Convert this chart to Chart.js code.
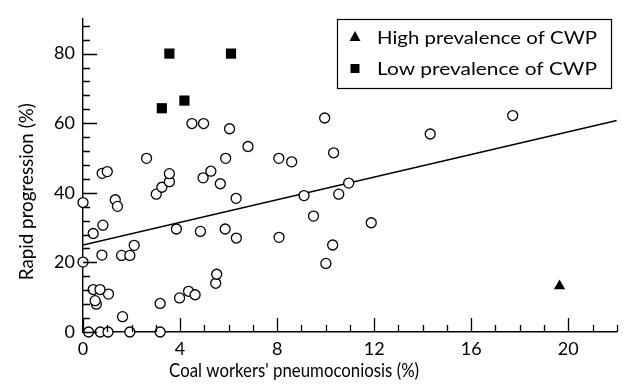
<!DOCTYPE html>
<html>
<head>
<meta charset="utf-8">
<script src="https://cdn.jsdelivr.net/npm/chart.js@4.4.1/dist/chart.umd.min.js"></script>
<style>
    html, body {margin: 0; padding: 0; background: #fff;}
    #wrap {width: 624px; height: 385px;}
</style>
</head>
<body>
<div id="wrap"><canvas id="cwpChart" width="624" height="385"></canvas></div>
<script>
// Coal workers' pneumoconiosis (%) vs rapid progression (%), one point per mine
const mineCwp = [
    0.23, 0.71, 1.03, 1.93, 3.18, 1.63, 0.55, 0.5, 1.05, 0.42, 0.7, 3.18, 3.98, 4.35, 4.62,
    5.47, 5.51, 0, 0.78, 1.59, 1.93, 2.11, 0.42, 0.82, 0, 1.33, 1.42, 3.02, 3.25, 3.56,
    3.56, 0.79, 1.0, 2.62, 3.85, 4.84, 5.86, 6.32, 6.31, 5.66, 4.95, 5.27, 5.88, 6.8, 6.04,
    4.49, 4.97, 8.07, 8.6, 8.08, 9.11, 9.5, 10.29, 10.01, 10.54, 10.95, 10.33, 9.96, 11.88, 14.31,
    17.71
];
const mineRapid = [
    0, 0, 0, 0, 0, 4.4, 8.0, 9.0, 10.9, 12.2, 12.2, 8.2, 9.8, 11.7, 10.7,
    14.0, 16.6, 20.1, 22.1, 22.0, 22.0, 24.9, 28.3, 30.7, 37.2, 38.0, 36.1, 39.6, 41.6, 43.2,
    45.5, 45.6, 46.1, 49.9, 29.6, 28.9, 29.6, 27.0, 38.4, 42.6, 44.3, 46.2, 49.9, 53.3, 58.4,
    59.9, 59.9, 49.9, 48.9, 27.2, 39.2, 33.3, 25.0, 19.7, 39.6, 42.8, 51.5, 61.5, 31.4, 56.9,
    62.2
];
const highCwp = [19.64];
const highRapid = [13.2];
const lowCwp = [3.56, 6.1, 4.18, 3.25];
const lowRapid = [80, 80, 66.5, 64.3];
const fitCwp = [0, 22];
const fitRapid = [25.0, 60.8];

const xTicks = [0, 4, 8, 12, 16, 20];
const yTicks = [0, 20, 40, 60, 80];
const xTitle = "Coal workers' pneumoconiosis (%)";
const yTitle = 'Rapid progression (%)';
const fontFamily = 'Lato, "Noto Sans", sans-serif';

const toPoints = (xs, ys) => xs.map((x, i) => ({x, y: ys[i]}));

// squeeze or stretch a text to a given width (the original face is wider/narrower than Lato)
const fitText = (ctx, text, x, y, width) => {
    const w = ctx.measureText(text).width;
    ctx.save();
    ctx.translate(x, y);
    ctx.scale(width / w, 1);
    ctx.fillText(text, 0, 0);
    ctx.restore();
};

// inward ticks, axis titles
const axisDecor = {
    id: 'axisDecor',
    afterDraw(chart) {
        const {ctx, scales: {x, y}} = chart;
        ctx.save();
        ctx.strokeStyle = '#000';
        ctx.lineWidth = 1.3;
        ctx.beginPath();
        for (let v = 0; v <= 22; v += 1) {
            const px = Math.round(x.getPixelForValue(v)) + 0.5;
            const len = v % 4 === 0 ? 14 : 7;
            ctx.moveTo(px, y.bottom);
            ctx.lineTo(px, y.bottom - len);
        }
        for (let v = 0; v <= 88; v += 4) {
            const py = Math.round(y.getPixelForValue(v)) + 0.5;
            const len = v % 20 === 0 ? 14 : 7;
            ctx.moveTo(x.left, py);
            ctx.lineTo(x.left + len, py);
        }
        ctx.stroke();

        ctx.fillStyle = '#000';
        ctx.font = '19px ' + fontFamily;
        ctx.textAlign = 'center';
        ctx.textBaseline = 'middle';
        fitText(ctx, xTitle, x.getPixelForValue(8.7), 371, 250);
        ctx.translate(27, y.getPixelForValue(40.3));
        ctx.rotate(-Math.PI / 2);
        fitText(ctx, yTitle, 0, 0, 177);
        ctx.restore();
    }
};

// boxed legend in the top right corner
const boxLegend = {
    id: 'boxLegend',
    afterDraw(chart) {
        const {ctx} = chart;
        const items = chart.data.datasets.filter(d => d.inLegend);
        ctx.save();
        ctx.fillStyle = '#fff';
        ctx.strokeStyle = '#000';
        ctx.lineWidth = 1.2;
        ctx.fillRect(337, 19, 274, 69);
        ctx.strokeRect(337.5, 19.5, 274, 69);
        ctx.font = '18px ' + fontFamily;
        ctx.textAlign = 'left';
        ctx.textBaseline = 'middle';
        items.forEach((d, i) => {
            const cy = 37 + i * 31.5;
            ctx.fillStyle = '#000';
            ctx.beginPath();
            if (d.pointStyle === 'triangle') {
                ctx.moveTo(355, cy - 6);
                ctx.lineTo(360.5, cy + 4);
                ctx.lineTo(349.5, cy + 4);
            } else {
                ctx.rect(350.5, cy - 4.5, 9, 9);
            }
            ctx.fill();
            fitText(ctx, d.label, 377, cy + 1, 220);
        });
        ctx.restore();
    }
};

new Chart(document.getElementById('cwpChart'), {
    type: 'scatter',
    data: {
        datasets: [
            {
                type: 'line',
                label: 'fit',
                data: toPoints(fitCwp, fitRapid),
                borderColor: '#000',
                borderWidth: 1.5,
                pointRadius: 0,
                fill: false,
                order: 3
            },
            {
                label: 'mines',
                data: toPoints(mineCwp, mineRapid),
                pointStyle: 'circle',
                pointRadius: 5,
                borderWidth: 1.3,
                borderColor: '#000',
                backgroundColor: '#fff',
                clip: false,
                order: 2
            },
            {
                label: 'High prevalence of CWP',
                inLegend: true,
                data: toPoints(highCwp, highRapid),
                pointStyle: 'triangle',
                pointRadius: 6.5,
                borderWidth: 0,
                backgroundColor: '#000',
                clip: false,
                order: 1
            },
            {
                label: 'Low prevalence of CWP',
                inLegend: true,
                data: toPoints(lowCwp, lowRapid),
                pointStyle: 'rect',
                pointRadius: 7.2,
                borderWidth: 0,
                backgroundColor: '#000',
                clip: false,
                order: 1
            }
        ]
    },
    options: {
        responsive: false,
        animation: false,
        layout: {padding: {top: 14, right: 2, left: 0, bottom: 0}},
        plugins: {legend: {display: false}, tooltip: {enabled: false}},
        scales: {
            x: {
                type: 'linear',
                min: 0,
                max: 22,
                afterFit: scale => { scale.height = 53; },
                afterBuildTicks: scale => { scale.ticks = xTicks.map(value => ({value})); },
                grid: {display: false, drawTicks: false},
                border: {display: true, color: '#000', width: 1.4},
                ticks: {color: '#000', padding: 6, maxRotation: 0, font: {family: fontFamily, size: 18}}
            },
            y: {
                min: 0,
                max: 90,
                afterFit: scale => { scale.width = 83; },
                afterBuildTicks: scale => { scale.ticks = yTicks.map(value => ({value})); },
                grid: {display: false, drawTicks: false},
                border: {display: true, color: '#000', width: 1.4},
                ticks: {color: '#000', padding: 8, font: {family: fontFamily, size: 18}}
            }
        }
    },
    plugins: [axisDecor, boxLegend]
});
</script>
</body>
</html>
